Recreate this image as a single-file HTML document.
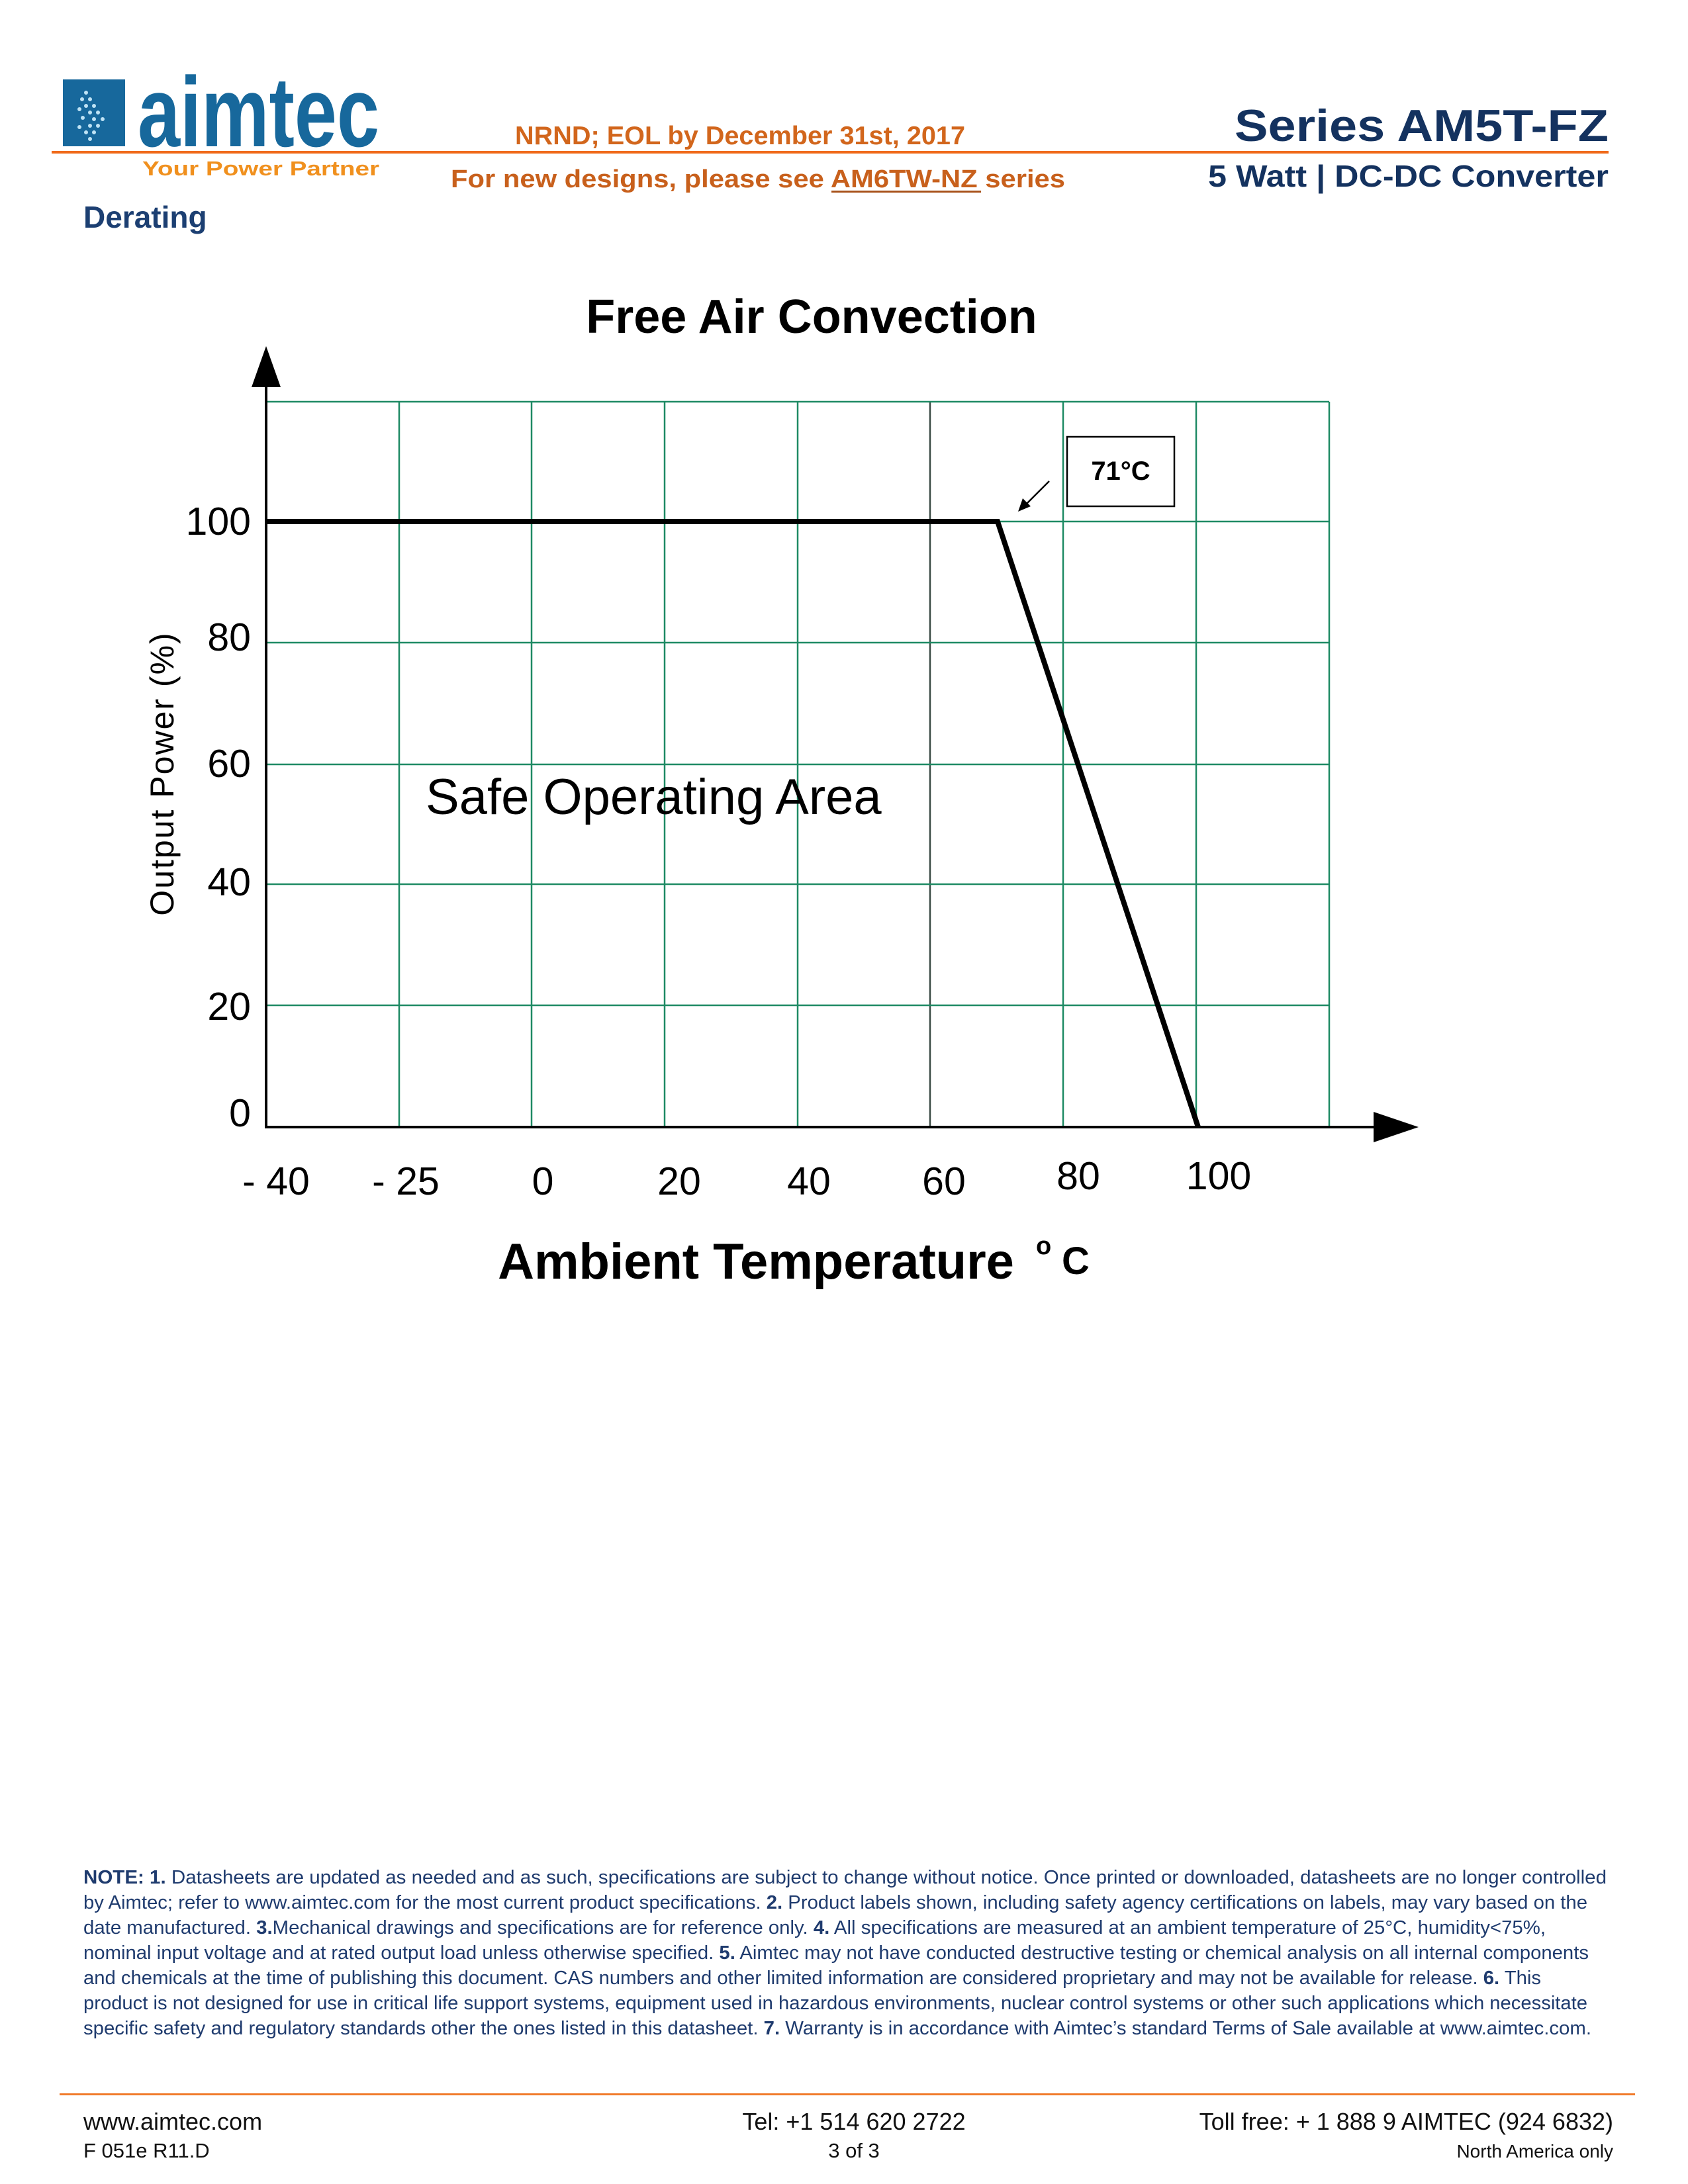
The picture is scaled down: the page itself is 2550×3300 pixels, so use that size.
<!DOCTYPE html>
<html><head><meta charset="utf-8"><style>
html,body{margin:0;padding:0;background:#fff}
svg{display:block}
text{font-family:"Liberation Sans",Arial,sans-serif}
</style></head><body>
<svg width="2550" height="3300" viewBox="0 0 2550 3300" xmlns="http://www.w3.org/2000/svg">
<!-- header -->
<rect x="95" y="120" width="94" height="101" fill="#17689c"/>
<g fill="#bfe3f5">
<circle cx="130" cy="140" r="3"/><circle cx="136" cy="150" r="3"/><circle cx="142" cy="160" r="3"/><circle cx="148" cy="170" r="3"/><circle cx="155" cy="180" r="3"/><circle cx="148" cy="190" r="3"/><circle cx="142" cy="200" r="3"/><circle cx="136" cy="210" r="3"/>
<circle cx="124" cy="150" r="3"/><circle cx="130" cy="160" r="3"/><circle cx="136" cy="170" r="3"/><circle cx="142" cy="180" r="3"/><circle cx="136" cy="190" r="3"/><circle cx="130" cy="200" r="3"/>
<circle cx="120" cy="165" r="3"/><circle cx="125" cy="178" r="3"/><circle cx="120" cy="192" r="3"/>
</g>
<text x="208" y="221" font-size="150" font-weight="bold" fill="#17689c" textLength="365" lengthAdjust="spacingAndGlyphs">aimtec</text>
<rect x="78" y="228" width="2352" height="4" fill="#f06a1a"/>
<text x="215" y="265" font-size="31" font-weight="bold" fill="#f0901e" textLength="358" lengthAdjust="spacingAndGlyphs">Your Power Partner</text>
<text x="1118" y="218" font-size="39" font-weight="bold" fill="#d2661c" text-anchor="middle" textLength="680" lengthAdjust="spacingAndGlyphs">NRND; EOL by December 31st, 2017</text>
<text x="1145" y="283" font-size="38" font-weight="bold" fill="#c8601c" text-anchor="middle" textLength="928" lengthAdjust="spacingAndGlyphs">For new designs, please see AM6TW-NZ series</text>
<rect x="1256" y="288" width="226" height="3" fill="#a8521a"/>
<text x="2430" y="213" font-size="68" font-weight="bold" fill="#14325f" text-anchor="end" textLength="565" lengthAdjust="spacingAndGlyphs">Series AM5T-FZ</text>
<text x="2430" y="282" font-size="46" font-weight="bold" fill="#14325f" text-anchor="end" textLength="605" lengthAdjust="spacingAndGlyphs">5 Watt | DC-DC Converter</text>
<text x="126" y="344" font-size="46" font-weight="bold" fill="#1c3f72">Derating</text>

<!-- chart -->
<text x="1226" y="503" font-size="72" font-weight="bold" fill="#000" text-anchor="middle">Free Air Convection</text>
<g stroke="#1e8a64" stroke-width="2.5">
<line x1="603" y1="607" x2="603" y2="1702"/><line x1="803" y1="607" x2="803" y2="1702"/><line x1="1004" y1="607" x2="1004" y2="1702"/><line x1="1205" y1="607" x2="1205" y2="1702"/><line x1="1405" y1="607" x2="1405" y2="1702" stroke="#3a4a44"/><line x1="1606" y1="607" x2="1606" y2="1702"/><line x1="1807" y1="607" x2="1807" y2="1702"/><line x1="2008" y1="607" x2="2008" y2="1702"/>
<line x1="402" y1="607" x2="2008" y2="607"/><line x1="402" y1="788" x2="2008" y2="788"/><line x1="402" y1="971" x2="2008" y2="971"/><line x1="402" y1="1155" x2="2008" y2="1155"/><line x1="402" y1="1336" x2="2008" y2="1336"/><line x1="402" y1="1519" x2="2008" y2="1519"/>
</g>
<line x1="402" y1="575" x2="402" y2="1704" stroke="#000" stroke-width="4"/>
<polygon points="402,523 380,585 424,585" fill="#000"/>
<line x1="400" y1="1703" x2="2090" y2="1703" stroke="#000" stroke-width="4"/>
<polygon points="2143,1703 2075,1680 2075,1726" fill="#000"/>
<polyline points="402,788 1507,788 1810,1703" fill="none" stroke="#000" stroke-width="8" stroke-linejoin="miter"/>
<rect x="1612" y="660" width="162" height="105" fill="#fff" stroke="#000" stroke-width="2.5"/>
<text x="1693" y="725" font-size="40" font-weight="bold" fill="#000" text-anchor="middle">71°C</text>
<line x1="1585" y1="727" x2="1548" y2="764" stroke="#000" stroke-width="2.5"/>
<polygon points="1538,773 1545,753 1557,765" fill="#000"/>

<g font-size="59" fill="#000" text-anchor="end">
<text x="379" y="808">100</text><text x="379" y="983">80</text><text x="379" y="1174">60</text><text x="379" y="1353">40</text><text x="379" y="1541">20</text><text x="379" y="1702">0</text>
</g>
<g font-size="59" fill="#000" text-anchor="middle">
<text x="417" y="1805">- 40</text><text x="613" y="1805">- 25</text><text x="820" y="1805">0</text><text x="1026" y="1805">20</text><text x="1222" y="1805">40</text><text x="1426" y="1805">60</text><text x="1629" y="1797">80</text><text x="1841" y="1797">100</text>
</g>
<text x="1142" y="1932" font-size="76" font-weight="bold" fill="#000" text-anchor="middle">Ambient Temperature</text>
<text x="1565" y="1895" font-size="38" font-weight="bold" fill="#000">o</text>
<text x="1604" y="1925" font-size="58" font-weight="bold" fill="#000">C</text>
<text transform="translate(262,1169) rotate(-90)" font-size="50" fill="#000" text-anchor="middle" letter-spacing="2">Output Power (%)</text>
<text x="643" y="1230" font-size="76" fill="#000">Safe Operating Area</text>

<!-- notes -->
<g font-size="28.5" fill="#1f3b6e">
<text x="126" y="2846" textLength="2301" lengthAdjust="spacingAndGlyphs"><tspan font-weight="bold">NOTE: 1.</tspan> Datasheets are updated as needed and as such, specifications are subject to change without notice.  Once printed or downloaded, datasheets are no longer controlled</text>
<text x="126" y="2884" textLength="2272" lengthAdjust="spacingAndGlyphs">by Aimtec; refer to www.aimtec.com for the most current product specifications. <tspan font-weight="bold">2.</tspan> Product labels shown, including safety agency certifications on labels, may vary based on the</text>
<text x="126" y="2922" textLength="2209" lengthAdjust="spacingAndGlyphs">date manufactured. <tspan font-weight="bold">3.</tspan>Mechanical drawings and specifications are for reference only. <tspan font-weight="bold">4.</tspan> All specifications are measured at an ambient temperature of 25°C, humidity&lt;75%,</text>
<text x="126" y="2960" textLength="2274" lengthAdjust="spacingAndGlyphs">nominal input voltage and at rated output load unless otherwise specified. <tspan font-weight="bold">5.</tspan> Aimtec may not have conducted destructive testing or chemical analysis on all internal components</text>
<text x="126" y="2998" textLength="2202" lengthAdjust="spacingAndGlyphs">and chemicals at the time of publishing this document. CAS numbers and other limited information are considered proprietary and may not be available for release. <tspan font-weight="bold">6.</tspan> This</text>
<text x="126" y="3036" textLength="2272" lengthAdjust="spacingAndGlyphs">product is not designed for use in critical life support systems, equipment used in hazardous environments, nuclear control systems or other such applications which necessitate</text>
<text x="126" y="3074" textLength="2278" lengthAdjust="spacingAndGlyphs">specific safety and regulatory standards other the ones listed in this datasheet. <tspan font-weight="bold">7.</tspan> Warranty is in accordance with Aimtec’s standard Terms of Sale available at www.aimtec.com.</text>
</g>

<!-- footer -->
<rect x="90" y="3163" width="2380" height="3" fill="#f07a2a"/>
<g fill="#111">
<text x="126" y="3218" font-size="36">www.aimtec.com</text>
<text x="126" y="3260" font-size="31">F 051e R11.D</text>
<text x="1290" y="3218" font-size="36" text-anchor="middle">Tel: +1 514 620 2722</text>
<text x="1290" y="3260" font-size="31" text-anchor="middle">3 of 3</text>
<text x="2437" y="3218" font-size="36" text-anchor="end">Toll free: + 1 888 9 AIMTEC (924 6832)</text>
<text x="2437" y="3260" font-size="28" text-anchor="end">North America only</text>
</g>
</svg>
</body></html>
